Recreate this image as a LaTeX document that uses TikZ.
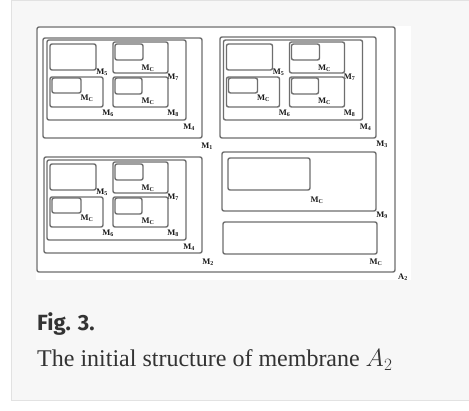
\documentclass[tikz,border=0pt]{standalone}
\usepackage{fontspec}
\setmainfont{Liberation Serif}
\newfontfamily\figfont{Fira Sans}
\definecolor{memgray}{HTML}{6E6E6E}
\definecolor{labcol}{HTML}{1A1A1A}
\definecolor{panelbg}{HTML}{F7F7F7}
\definecolor{panelline}{HTML}{E2E2E2}
\definecolor{captext}{HTML}{333333}
\newcommand\memlab[1]{M\textsubscript{#1}}
\newcommand\quadcontent[3]{%
\begin{scope}[shift={(#1,#2)}]
 \draw[mem] (47,40) rectangle (186,120);
 \node[lab] (#3m4) at (189,127) {\memlab{4}};
 \draw[mem] (50,44) rectangle (96,70);
 \node[lab] (#3m5) at (102,72) {\memlab{5}};
 \draw[mem] (113,42) rectangle (168,73);
 \draw[mem] (115,44) rectangle (143,60);
 \node[lab] (#3c7) at (148,68) {\memlab{C}};
 \node[lab] (#3m7) at (173,77) {\memlab{7}};
 \draw[mem] (50,77) rectangle (103,107);
 \draw[mem] (52,78) rectangle (81,93);
 \node[lab] (#3c6) at (87,98) {\memlab{C}};
 \node[lab] (#3m6) at (108,113) {\memlab{6}};
 \draw[mem] (113,77) rectangle (168,107);
 \draw[mem] (115,78) rectangle (142,94);
 \node[lab] (#3c8) at (148,101) {\memlab{C}};
 \node[lab] (#3m8) at (173,113) {\memlab{8}};
\end{scope}}
\begin{document}
\begin{tikzpicture}[x=1pt,y=-1pt,
 mem/.style={draw=memgray,line width=1.4pt,rounded corners=2pt},
 lab/.style={font=\bfseries\fontsize{8.5}{9}\selectfont,text=labcol,inner sep=0pt}]
\useasboundingbox (0,0) rectangle (469,411);
% panel
\fill[panelbg] (11,0) rectangle (469,401);
\draw[panelline,line width=1pt] (11.5,0.5) -- (469,0.5);
\draw[panelline,line width=1pt] (11.5,0.5) -- (11.5,400.5) -- (469,400.5);
\fill[white] (36,26) rectangle (411,280);
% A2
\draw[mem] (37,27) rectangle (395,272);
\node[lab] (a2) at (403,277) {A\textsubscript{2}};
% M1, M3, M2
\draw[mem] (43,38) rectangle (202,138);
\node[lab] (m1) at (207,146) {\memlab{1}};
\draw[mem] (220,37) rectangle (376,138);
\node[lab] (m3) at (382,144) {\memlab{3}};
\draw[mem] (44,157) rectangle (202,253);
\node[lab] (m2) at (208,262) {\memlab{2}};
\quadcontent{0}{0}{tl}
\quadcontent{176.5}{0}{tr}
\quadcontent{0}{120}{bl}
% bottom right
\draw[mem] (222,152) rectangle (376,211);
\draw[mem] (228,158) rectangle (310,190);
\node[lab] (c9) at (317,200) {\memlab{C}};
\node[lab] (m9) at (382,215) {\memlab{9}};
\draw[mem] (223,222) rectangle (377,254);
\node[lab] (cb) at (376,262) {\memlab{C}};
% caption
\node[anchor=base west,inner sep=0pt,text=captext,font=\figfont\bfseries\fontsize{22}{26}\selectfont] (fig) at (37,331) {Fig. 3.};
\node[anchor=base west,inner sep=0pt,text=captext,font=\fontsize{24}{28}\selectfont] (cap) at (37,367) {The initial structure of membrane $A_2$};
\end{tikzpicture}
\end{document}
